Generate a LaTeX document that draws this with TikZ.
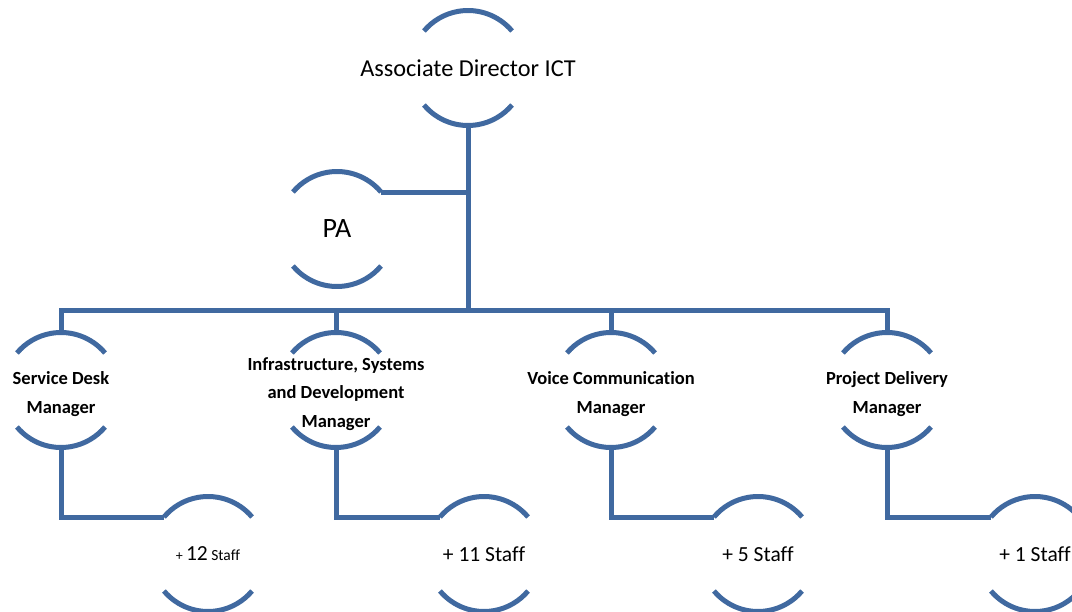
\documentclass[tikz,border=0pt]{standalone}
\usepackage{fontspec}
\setmainfont{Carlito}[Ligatures=NoCommon]
\usetikzlibrary{positioning}

\definecolor{ictblue}{RGB}{64,105,160}

\tikzset{
  unit/.style={circle,minimum size=115pt,inner sep=0pt,outer sep=0pt},
  txt/.style={align=center,inner sep=0pt},
  mgr/.style={txt,yshift=-4pt,font=\fontsize{18.5}{28.5}\selectfont\bfseries},
  staff/.style={txt,font=\fontsize{21.5}{24}\selectfont},
  bline/.style={draw=ictblue,line width=5pt}
}

\begin{document}
\begin{tikzpicture}[x=1pt,y=-1pt]
		
		\useasboundingbox (0,0) rectangle (1072,612);
		\clip (0,0) rectangle (1072,612);
		
		\node[unit,label={[txt,font=\fontsize{24.3}{28}\selectfont]center:Associate Director ICT}] (adi) at (468,68) {};
		\node[unit,label={[txt,font=\fontsize{28}{32}\selectfont]center:PA}] (pa) at (337,229) {};
		
		\node[unit,label={[mgr]center:{Service Desk\\Manager}}] (sdm) at (61,390) {};
		\node[unit,label={[mgr]center:{Infrastructure, Systems\\and Development\\Manager}}] (isd) at (336,390) {};
		\node[unit,label={[mgr]center:{Voice Communication\\Manager}}] (vcm) at (611,390) {};
		\node[unit,label={[mgr]center:{Project Delivery\\Manager}}] (pdm) at (887,390) {};
		
		\node[unit,label={[staff]center:{{\fontsize{14}{16}\selectfont+ }12{\fontsize{15.5}{16}\selectfont\ Staff}}}] (s1) at (208,554) {};
		\node[unit,label={[staff]center:+ 11 Staff}] (s2) at (484,554) {};
		\node[unit,label={[staff]center:+ 5 Staff}] (s3) at (758,554) {};
		\node[unit,label={[staff]center:+ 1 Staff}] (s4) at (1035,554) {};
		
		% arcs above and below each label
		\foreach \n in {adi,pa,sdm,isd,vcm,pdm,s1,s2,s3,s4}
		\draw[bline] (\n.40) arc[start angle=40,end angle=140,radius=57.5pt]
		(\n.220) arc[start angle=220,end angle=320,radius=57.5pt];
		
		\coordinate (bus) at (468,311);
		\draw[bline] (adi.south) -- (bus);
		\draw[bline] (pa.40) -- (pa.40 -| adi.south);
		\draw[bline] (sdm.north) |- (bus) -| (pdm.north);
		\draw[bline] (isd.north) -- (isd.north |- bus);
		\draw[bline] (vcm.north) -- (vcm.north |- bus);
		
		\draw[bline] (sdm.south) |- (s1.140);
		\draw[bline] (isd.south) |- (s2.140);
		\draw[bline] (vcm.south) |- (s3.140);
		\draw[bline] (pdm.south) |- (s4.140);
		
	\end{tikzpicture}
\end{document}
